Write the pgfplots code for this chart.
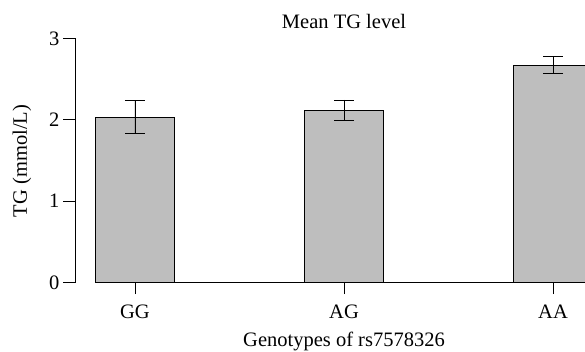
\documentclass[border=0pt]{standalone}
\usepackage{fontspec}
\setmainfont{Liberation Serif}
\usepackage{pgfplots}
\pgfplotsset{compat=1.18}
\begin{document}
\fontsize{20.5}{24}\selectfont
\begin{tikzpicture}[x=1pt,y=1pt]
\useasboundingbox (0,0) rectangle (585,351);
\clip (0,0) rectangle (585,351);
\begin{axis}[
  at={(75pt,68.33pt)}, anchor=south west,
  scale only axis, width=510pt, height=244.33pt,
  xmin=-0.287, xmax=2.153, ymin=0, ymax=3,
  axis y line*=left, axis x line*=bottom,
  x axis line style={draw=none},
  y axis line style={-, line width=0.8pt},
  xtick={0,1,2}, xticklabels={GG,AG,AA},
  ytick={0,1,2,3},
  tick style={black, line width=0.8pt},
  major tick length=11.5pt,
  tick align=outside,
  clip=false,
  /pgf/number format/assume math mode=true,
  ticklabel style={font=\fontsize{20.5}{24}\selectfont},
  xticklabel style={yshift=-4pt},
  yticklabel style={xshift=3pt},
]
\addplot[ybar, bar width=0.378, fill={rgb,255:red,190;green,190;blue,190}, draw=black, line width=0.8pt,
  error bars/.cd, y dir=both, y explicit,
  error bar style={line width=0.8pt, black},
  error mark options={rotate=90, mark size=10pt, line width=0.8pt, black}]
  coordinates {
  (0,2.034) +- (0,0.205)
  (1,2.120) +- (0,0.123)
  (2,2.672) +- (0,0.107)
  };
\addplot[black, line width=0.8pt, forget plot] coordinates {(-0.19,0) (2.3,0)};
\end{axis}
\node at (344,330) {Mean TG level};
\node at (344,10) {Genotypes of rs7578326};
\node[rotate=90] at (22,190) {TG (mmol/L)};
\end{tikzpicture}
\end{document}
